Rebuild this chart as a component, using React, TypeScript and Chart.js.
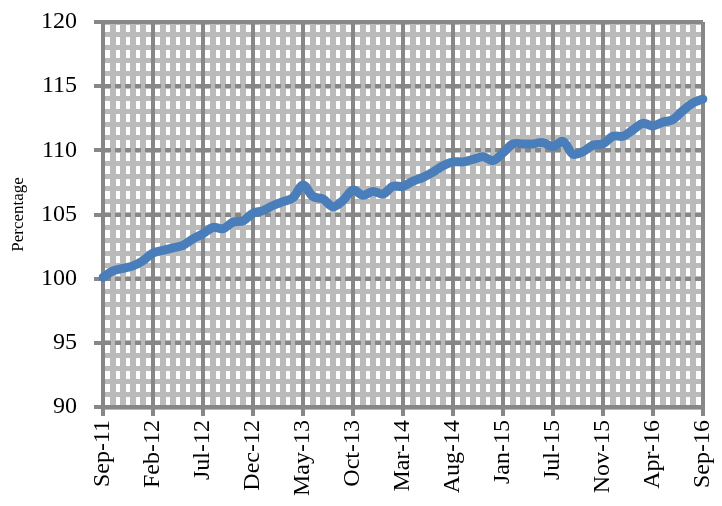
import React, { useEffect, useRef } from "react";
import { Chart, registerables } from "chart.js";

Chart.register(...registerables);

const categories: string[] = [
  "Sep-11", "Oct-11", "Nov-11", "Dec-11", "Jan-12", "Feb-12", "Mar-12", "Apr-12", "May-12", "Jun-12",
  "Jul-12", "Aug-12", "Sep-12", "Oct-12", "Nov-12", "Dec-12", "Jan-13", "Feb-13", "Mar-13", "Apr-13",
  "May-13", "Jun-13", "Jul-13", "Aug-13", "Sep-13", "Oct-13", "Nov-13", "Dec-13", "Jan-14", "Feb-14",
  "Mar-14", "Apr-14", "May-14", "Jun-14", "Jul-14", "Aug-14", "Sep-14", "Oct-14", "Nov-14", "Dec-14",
  "Jan-15", "Feb-15", "Mar-15", "Apr-15", "May-15", "Jul-15", "Aug-15", "Sep-15", "Oct-15", "Oct-15",
  "Nov-15", "Dec-15", "Jan-16", "Feb-16", "Mar-16", "Apr-16", "May-16", "Jun-16", "Jul-16", "Aug-16",
  "Sep-16",
];

const values: number[] = [
  100.1, 100.6, 100.8, 101.0, 101.4, 102.0, 102.2, 102.4, 102.6, 103.1,
  103.5, 104.0, 103.9, 104.4, 104.5, 105.1, 105.3, 105.7, 106.0, 106.3,
  107.3, 106.4, 106.2, 105.6, 106.1, 106.9, 106.5, 106.8, 106.6, 107.2,
  107.2, 107.6, 107.9, 108.3, 108.8, 109.1, 109.1, 109.3, 109.5, 109.2,
  109.8, 110.5, 110.5, 110.5, 110.6, 110.3, 110.7, 109.7, 109.9, 110.4,
  110.5, 111.1, 111.1, 111.6, 112.1, 111.9, 112.2, 112.4, 113.1, 113.7,
  114.0,
];

const yTickLabels: number[] = [90, 95, 100, 105, 110, 115, 120];
const labelEvery = 5;

const DARK = "#878787";
const LIGHT = "#bababa";
const BLUE = "#4a7ebb";
const FONT = "'Liberation Serif', 'Times New Roman', serif";

export default function App() {
  const ref = useRef<HTMLCanvasElement | null>(null);

  useEffect(() => {
    if (!ref.current) return;
    const chart = new Chart(ref.current, {
      type: "line",
      data: {
        labels: categories,
        datasets: [
          {
            data: values,
            borderColor: BLUE,
            backgroundColor: BLUE,
            borderWidth: 9,
            pointRadius: 0,
            pointHoverRadius: 0,
            tension: 0.35,
            fill: false,
            borderCapStyle: "round",
            borderJoinStyle: "round",
            xAxisID: "x",
            yAxisID: "y",
          },
        ],
      },
      options: {
        animation: false,
        responsive: false,
        events: [],
        layout: { padding: { top: 22, right: 19, bottom: 0, left: 0 } },
        plugins: { legend: { display: false }, tooltip: { enabled: false } },
        scales: {
          x: {
            type: "category",
            position: "bottom",
            offset: false,
            afterFit: (s: any) => {
              s.height = 99;
              s.paddingLeft = 0;
              s.paddingRight = 0;
            },
            grid: {
              z: -2,
              color: (c: any) => (c.index % labelEvery === 0 ? DARK : LIGHT),
              lineWidth: (c: any) => (c.index % labelEvery === 0 ? 4 : 6),
              tickColor: (c: any) => (c.index % labelEvery === 0 ? DARK : "rgba(0,0,0,0)"),
              tickWidth: 4,
              tickLength: 9,
            },
            border: { color: DARK, width: 4 },
            ticks: {
              autoSkip: false,
              minRotation: 90,
              maxRotation: 90,
              padding: 4,
              color: "#000",
              font: { family: FONT, size: 24, lineHeight: 1 },
              callback: (_v: any, i: number) => (i % labelEvery === 0 ? categories[i] : ""),
            },
          },
          y: {
            type: "linear",
            position: "left",
            min: yTickLabels[0],
            max: yTickLabels[yTickLabels.length - 1],
            afterFit: (s: any) => {
              s.width = 103;
              s.paddingTop = 0;
              s.paddingBottom = 0;
            },
            grid: {
              z: -1,
              color: (c: any) =>
                c.tick && yTickLabels.includes(c.tick.value) ? DARK : "rgba(0,0,0,0)",
              lineWidth: 4,
              tickColor: (c: any) =>
                c.tick && yTickLabels.includes(c.tick.value) ? DARK : "rgba(0,0,0,0)",
              tickWidth: 4,
              tickLength: 9,
            },
            border: {
              color: DARK,
              width: 4,
              dash: (c: any) =>
                c.tick && c.tick.value !== yTickLabels[yTickLabels.length - 1] ? [6, 4] : [],
            },
            ticks: {
              stepSize: 1,
              autoSkip: false,
              padding: 17,
              color: "#000",
              font: { family: FONT, size: 24, lineHeight: 1 },
              callback: (v: any) => (yTickLabels.includes(Number(v)) ? String(v) : ""),
            },
            title: {
              display: true,
              text: "Percentage",
              color: "#000",
              font: { family: FONT, size: 17, lineHeight: 1 },
              padding: { top: 10, bottom: 0 },
            },
          },
          yMinor: {
            type: "linear",
            position: "left",
            min: yTickLabels[0],
            max: yTickLabels[yTickLabels.length - 1],
            afterFit: (s: any) => {
              s.paddingTop = 0;
              s.paddingBottom = 0;
            },
            grid: {
              z: -3,
              color: LIGHT,
              lineWidth: 5,
              drawTicks: false,
            },
            border: { display: false },
            ticks: { display: false, stepSize: 1, autoSkip: false },
          },
        },
      },
    } as any);
    return () => chart.destroy();
  }, []);

  return (
    <div style={{ position: "absolute", left: 0, top: 0, width: 722, height: 506 }}>
      <canvas ref={ref} width={722} height={506} />
    </div>
  );
}
